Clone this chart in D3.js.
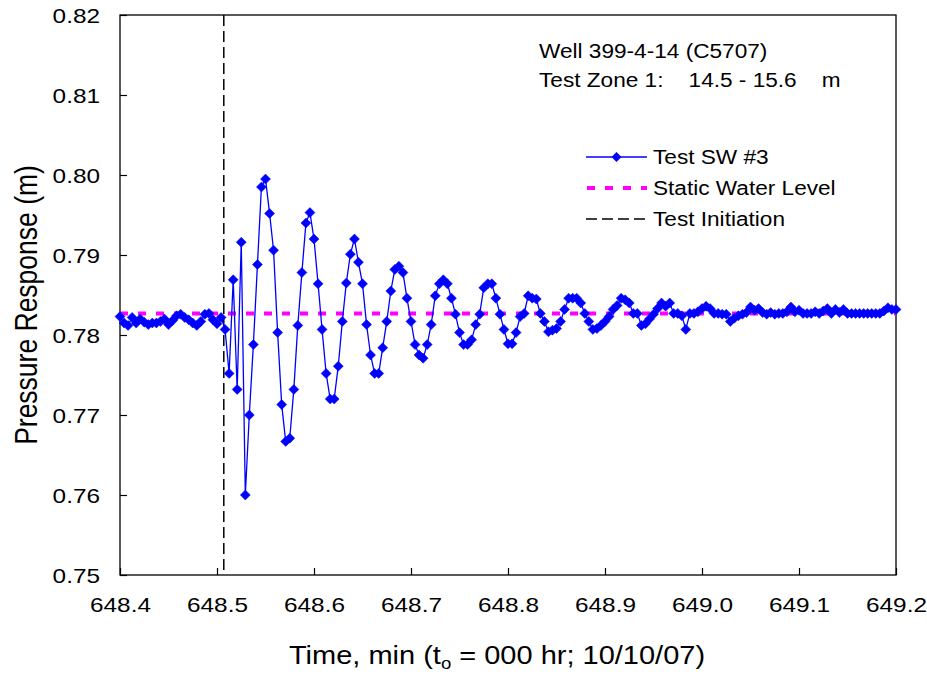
<!DOCTYPE html>
<html>
<head>
<meta charset="utf-8">
<script src="https://cdn.jsdelivr.net/npm/d3@7"></script>
<style>
  html, body { margin: 0; padding: 0; background: #fff; }
  svg { display: block; font-family: "Liberation Sans", Arial, sans-serif; }
</style>
</head>
<body>
<svg id="chart" width="927" height="674"></svg>
<script>
// ---------------- data ----------------
const timeMin = [
  648.4000,648.4042,648.4083,648.4125,648.4167,648.4208,648.4250,648.4292,648.4333,648.4375,648.4417,648.4458,
  648.4500,648.4542,648.4583,648.4625,648.4667,648.4708,648.4750,648.4792,648.4833,648.4875,648.4917,648.4958,
  648.5000,648.5042,648.5083,648.5125,648.5167,648.5208,648.5250,648.5292,648.5333,648.5375,648.5417,648.5458,
  648.5500,648.5542,648.5583,648.5625,648.5667,648.5708,648.5750,648.5792,648.5833,648.5875,648.5917,648.5958,
  648.6000,648.6042,648.6083,648.6125,648.6167,648.6208,648.6250,648.6292,648.6333,648.6375,648.6417,648.6458,
  648.6500,648.6542,648.6583,648.6625,648.6667,648.6708,648.6750,648.6792,648.6833,648.6875,648.6917,648.6958,
  648.7000,648.7042,648.7083,648.7125,648.7167,648.7208,648.7250,648.7292,648.7333,648.7375,648.7417,648.7458,
  648.7500,648.7542,648.7583,648.7625,648.7667,648.7708,648.7750,648.7792,648.7833,648.7875,648.7917,648.7958,
  648.8000,648.8042,648.8083,648.8125,648.8167,648.8208,648.8250,648.8292,648.8333,648.8375,648.8417,648.8458,
  648.8500,648.8542,648.8583,648.8625,648.8667,648.8708,648.8750,648.8792,648.8833,648.8875,648.8917,648.8958,
  648.9000,648.9042,648.9083,648.9125,648.9167,648.9208,648.9250,648.9292,648.9333,648.9375,648.9417,648.9458,
  648.9500,648.9542,648.9583,648.9625,648.9667,648.9708,648.9750,648.9792,648.9833,648.9875,648.9917,648.9958,
  649.0000,649.0042,649.0083,649.0125,649.0167,649.0208,649.0250,649.0292,649.0333,649.0375,649.0417,649.0458,
  649.0500,649.0542,649.0583,649.0625,649.0667,649.0708,649.0750,649.0792,649.0833,649.0875,649.0917,649.0958,
  649.1000,649.1042,649.1083,649.1125,649.1167,649.1208,649.1250,649.1292,649.1333,649.1375,649.1417,649.1458,
  649.1500,649.1542,649.1583,649.1625,649.1667,649.1708,649.1750,649.1792,649.1833,649.1875,649.1917,649.1958,
  649.2000
];

const pressureSW3 = [
  0.7823,0.7815,0.7812,0.7822,0.7815,0.7820,0.7816,0.7813,0.7815,0.7815,
  0.7817,0.7820,0.7813,0.7818,0.7824,0.7826,0.7822,0.7819,0.7815,0.7812,
  0.7817,0.7826,0.7827,0.7819,0.7814,0.7822,
  0.7807,0.7752,0.7869,0.7732,
  0.7916,0.7600,0.7700,0.7788,0.7888,0.7985,0.7995,0.7952,0.7906,0.7803,
  0.7713,0.7667,0.7671,0.7732,0.7812,0.7878,0.7940,0.7953,0.7920,0.7864,
  0.7807,0.7752,0.7720,0.7720,0.7761,0.7817,0.7865,0.7901,0.7920,0.7891,
  0.7864,0.7813,0.7775,0.7752,0.7752,0.7784,0.7817,0.7855,0.7882,0.7886,
  0.7878,0.7846,0.7817,0.7788,0.7775,0.7771,0.7788,0.7813,0.7849,0.7864,
  0.7869,0.7864,0.7846,0.7826,0.7803,0.7788,0.7788,0.7794,0.7813,0.7826,
  0.7859,0.7864,0.7864,0.7846,0.7826,0.7807,0.7789,0.7789,0.7803,0.7823,
  0.7827,0.7849,0.7846,0.7845,0.7827,0.7817,0.7804,0.7806,0.7808,0.7817,
  0.7832,0.7846,0.7846,0.7846,0.7840,0.7827,0.7817,0.7807,0.7808,0.7812,
  0.7817,0.7823,0.7832,0.7837,0.7846,0.7844,0.7840,0.7827,0.7827,0.7812,
  0.7814,0.7820,0.7826,0.7833,0.7840,0.7836,0.7840,0.7827,0.7827,0.7824,
  0.7807,0.7827,0.7827,0.7829,0.7833,0.7836,0.7833,0.7827,0.7827,0.7826,
  0.7826,0.7817,0.7821,0.7824,0.7826,0.7828,0.7835,0.7831,0.7833,0.7828,
  0.7826,0.7828,0.7826,0.7827,0.7827,0.7829,0.7835,0.7829,0.7831,0.7827,
  0.7827,0.7827,0.7829,0.7827,0.7830,0.7833,0.7827,0.7832,0.7828,0.7832,
  0.7827,0.7827,0.7827,0.7827,0.7827,0.7827,0.7827,0.7827,0.7827,0.7830,
  0.7834,0.7832,0.7832
];

const staticWaterLevel = 0.7827;
const testInitiationTime = 648.507;

const xTicks = [648.4, 648.5, 648.6, 648.7, 648.8, 648.9, 649.0, 649.1, 649.2];
const yTicks = [0.75, 0.76, 0.77, 0.78, 0.79, 0.80, 0.81, 0.82];

const xTitleMain = "Time, min (t";
const xTitleSub = "o";
const xTitleRest = " = 000 hr; 10/10/07)";
const yTitle = "Pressure Response (m)";
const noteLines = ["Well 399-4-14 (C5707)", "Test Zone 1:    14.5 - 15.6    m"];
const legendLabels = ["Test SW #3", "Static Water Level", "Test Initiation"];

// ---------------- drawing ----------------
const svg = d3.select("#chart");
const L = 120, R = 896, T = 15, B = 575;
const SX = 1.16; // horizontal text stretch of the original

const x = d3.scaleLinear().domain([648.4, 649.2]).range([L, R]);
const y = d3.scaleLinear().domain([0.75, 0.82]).range([B, T]);

const data = timeMin.map((t, i) => ({ t, v: pressureSW3[i] }));

// frame
svg.append("rect")
  .attr("x", L).attr("y", T).attr("width", R - L).attr("height", B - T)
  .attr("fill", "none").attr("stroke", "#000").attr("stroke-width", 1.3);

// axes (inward ticks)
const yAxis = svg.append("g").attr("transform", `translate(${L},0)`)
  .call(d3.axisLeft(y).tickValues(yTicks).tickSizeInner(-7).tickSizeOuter(0)
        .tickFormat(d3.format(".2f")));
const xAxis = svg.append("g").attr("transform", `translate(0,${B})`)
  .call(d3.axisBottom(x).tickValues(xTicks).tickSizeInner(-7).tickSizeOuter(0)
        .tickFormat(d3.format(".1f")));
[yAxis, xAxis].forEach(g => {
  g.select(".domain").remove();
  g.selectAll(".tick line").attr("stroke", "#000").attr("stroke-width", 1.2);
});
yAxis.selectAll(".tick text")
  .attr("x", null).attr("dy", "0.36em")
  .attr("transform", `translate(-20,0) scale(${SX},1)`)
  .attr("text-anchor", "end")
  .attr("font-family", "Liberation Sans, Arial, sans-serif")
  .attr("font-size", 21).attr("fill", "#000");
xAxis.selectAll(".tick text")
  .attr("y", null).attr("dy", null)
  .attr("transform", `translate(0,37) scale(${SX},1)`)
  .attr("text-anchor", "middle")
  .attr("font-family", "Liberation Sans, Arial, sans-serif")
  .attr("font-size", 21).attr("fill", "#000");

// static water level
svg.append("line")
  .attr("x1", x(648.4)).attr("x2", x(649.2))
  .attr("y1", y(staticWaterLevel)).attr("y2", y(staticWaterLevel))
  .attr("stroke", "#FF00FF").attr("stroke-width", 4)
  .attr("stroke-dasharray", "8,10");

// test initiation
svg.append("line")
  .attr("x1", x(testInitiationTime)).attr("x2", x(testInitiationTime))
  .attr("y1", T).attr("y2", B)
  .attr("stroke", "#000").attr("stroke-width", 1.5)
  .attr("stroke-dasharray", "11,5");

// series line
svg.append("path").datum(data)
  .attr("fill", "none").attr("stroke", "#0000FF").attr("stroke-width", 1.3)
  .attr("d", d3.line().x(d => x(d.t)).y(d => y(d.v)));

// diamond markers
const diamond = (cx, cy, r) => `M${cx},${cy - r}L${cx + r},${cy}L${cx},${cy + r}L${cx - r},${cy}Z`;
svg.append("g").selectAll("path").data(data).join("path")
  .attr("d", d => diamond(x(d.t), y(d.v), 5))
  .attr("fill", "#0000FF").attr("stroke", "#0000FF").attr("stroke-width", 0.5);

// text helper
function stretchedText(px, py, str, size, anchor) {
  return svg.append("text")
    .attr("transform", `translate(${px},${py}) scale(${SX},1)`)
    .attr("text-anchor", anchor || "start")
    .attr("font-size", size).attr("fill", "#000")
    .text(str);
}

// annotation
stretchedText(539, 58, noteLines[0], 19.5);
stretchedText(539, 87, noteLines[1], 19.5).attr("xml:space", "preserve").style("white-space", "pre");

// legend
const lgX1 = 586, lgX2 = 647, lgTextX = 653;
const lgY = [157, 188, 219];
svg.append("line").attr("x1", lgX1).attr("x2", lgX2).attr("y1", lgY[0]).attr("y2", lgY[0])
  .attr("stroke", "#0000FF").attr("stroke-width", 1.3);
svg.append("path").attr("d", diamond((lgX1 + lgX2) / 2, lgY[0], 5)).attr("fill", "#0000FF");
svg.append("line").attr("x1", lgX1 + 1).attr("x2", lgX2).attr("y1", lgY[1]).attr("y2", lgY[1])
  .attr("stroke", "#FF00FF").attr("stroke-width", 4).attr("stroke-dasharray", "8,10");
svg.append("line").attr("x1", lgX1).attr("x2", lgX2).attr("y1", lgY[2]).attr("y2", lgY[2])
  .attr("stroke", "#000").attr("stroke-width", 1.5).attr("stroke-dasharray", "11,5");
legendLabels.forEach((lab, i) => stretchedText(lgTextX, lgY[i] + 7, lab, 19.5));

// axis titles
const xt = svg.append("text")
  .attr("transform", `translate(497,664) scale(${SX},1)`)
  .attr("text-anchor", "middle").attr("font-size", 25).attr("fill", "#000");
xt.append("tspan").text(xTitleMain);
xt.append("tspan").attr("font-size", 16).attr("dy", 5).text(xTitleSub);
xt.append("tspan").attr("dy", -5).text(xTitleRest);

svg.append("text")
  .attr("transform", `translate(37,305) rotate(-90) scale(1,${SX})`)
  .attr("text-anchor", "middle").attr("font-size", 26.5).attr("fill", "#000")
  .text(yTitle);
</script>
</body>
</html>
